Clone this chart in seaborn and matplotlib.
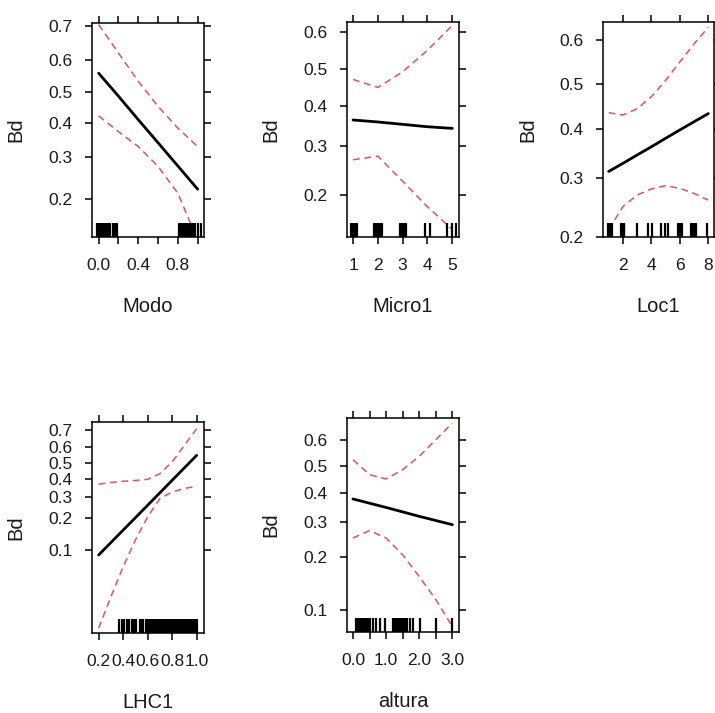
import matplotlib
matplotlib.use('Agg')
import matplotlib.pyplot as plt
import seaborn as sns
import pandas as pd

sns.set_style('ticks')
plt.rcParams['font.family'] = ['Liberation Sans', 'DejaVu Sans']

# ---- Modo ----
modo_x = [0.0, 0.2, 0.4, 0.6, 0.8, 1.0]
modo_fit = [0.560, 0.486, 0.411, 0.341, 0.277, 0.221]
modo_hi = [0.705, 0.623, 0.534, 0.453, 0.385, 0.330]
modo_lo = [0.423, 0.374, 0.330, 0.276, 0.212, 0.128]
modo_rug = [-0.02, 0.0, 0.02, 0.04, 0.06, 0.08, 0.10, 0.11, 0.15, 0.17, 0.19,
            0.81, 0.83, 0.85, 0.87, 0.89, 0.91, 0.93, 0.95, 0.97, 1.0, 1.03]

# ---- Micro1 ----
micro_x = [1, 2, 3, 4, 5]
micro_fit = [0.363, 0.358, 0.352, 0.346, 0.342]
micro_hi = [0.471, 0.449, 0.492, 0.551, 0.617]
micro_lo = [0.269, 0.277, 0.225, 0.180, 0.146]
micro_rug = [0.9, 0.95, 1.0, 1.05, 1.1, 1.15, 1.85, 1.9, 1.95, 2.0, 2.05, 2.1, 2.15,
             2.9, 2.95, 3.0, 3.05, 3.1, 3.15, 3.9, 4.1, 4.79, 4.98, 5.15]

# ---- Loc1 ----
loc_x = [1, 2, 3, 4, 5, 6, 7, 8]
loc_fit = [0.312, 0.328, 0.345, 0.362, 0.380, 0.398, 0.416, 0.434]
loc_hi = [0.436, 0.431, 0.445, 0.472, 0.509, 0.551, 0.591, 0.627]
loc_lo = [0.211, 0.248, 0.268, 0.279, 0.285, 0.280, 0.271, 0.259]
loc_rug = [0.95, 1.0, 1.05, 1.15, 1.2, 1.85, 1.95, 2.05, 2.1, 2.99, 3.79, 4.07,
           4.7, 4.99, 5.2, 5.85, 5.95, 6.05, 6.15, 6.8, 6.9, 7.0, 7.1, 7.93]

# ---- LHC1 ----
lhc_fit_x = [0.2, 0.4, 0.6, 0.8, 1.0]
lhc_fit = [0.089, 0.155, 0.256, 0.393, 0.549]
lhc_band_x = [0.2, 0.3, 0.4, 0.5, 0.6, 0.7, 0.8, 0.9, 1.0]
lhc_hi = [0.370, 0.380, 0.387, 0.392, 0.399, 0.434, 0.507, 0.611, 0.705]
lhc_lo = [0.0151, 0.0329, 0.0676, 0.125, 0.204, 0.290, 0.325, 0.345, 0.358]
lhc_rug = [0.368, 0.388, 0.409, 0.428, 0.449, 0.469, 0.490, 0.509, 0.537, 0.545,
           0.553, 0.562, 0.586, 0.605, 0.62, 0.63, 0.64, 0.65, 0.66, 0.67, 0.68,
           0.69, 0.70, 0.71, 0.72, 0.73, 0.74, 0.75, 0.76, 0.77, 0.78, 0.79, 0.80,
           0.81, 0.82, 0.83, 0.84, 0.85, 0.86, 0.87, 0.88, 0.89, 0.90, 0.91, 0.92,
           0.93, 0.94, 0.95, 0.96, 0.97, 0.98, 0.99, 1.0]

# ---- altura ----
alt_fit_x = [0.0, 1.0, 2.0, 3.0]
alt_fit = [0.378, 0.348, 0.318, 0.291]
alt_band_x = [0.0, 0.5, 1.0, 1.5, 2.0, 2.5, 3.0]
alt_hi = [0.525, 0.468, 0.452, 0.487, 0.538, 0.600, 0.659]
alt_lo = [0.251, 0.273, 0.251, 0.206, 0.157, 0.116, 0.080]
alt_rug = [0.10, 0.15, 0.20, 0.25, 0.30, 0.35, 0.40, 0.45, 0.51, 0.61, 0.71, 0.81,
           0.96, 1.21, 1.26, 1.31, 1.36, 1.41, 1.46, 1.51, 1.56, 1.62, 1.72, 1.82,
           2.02, 2.5, 3.0]

panels = [
    dict(name='Modo', fx=modo_x, fit=modo_fit, bx=modo_x, hi=modo_hi, lo=modo_lo, rug=modo_rug,
         box=(92, 23, 204, 237), xlim=(-0.067, 1.064), ylim=(0.1326, 0.709),
         xt=[0.0, 0.4, 0.8], xl=['0.0', '0.4', '0.8'], xm=[0.2, 0.6, 1.0],
         yt=[0.2, 0.3, 0.4, 0.5, 0.6, 0.7]),
    dict(name='Micro1', fx=micro_x, fit=micro_fit, bx=micro_x, hi=micro_hi, lo=micro_lo, rug=micro_rug,
         box=(347, 22, 459, 237), xlim=(0.758, 5.27), ylim=(0.136, 0.626),
         xt=[1, 2, 3, 4, 5], xl=['1', '2', '3', '4', '5'], xm=[],
         yt=[0.2, 0.3, 0.4, 0.5, 0.6]),
    dict(name='Loc1', fx=loc_x, fit=loc_fit, bx=loc_x, hi=loc_hi, lo=loc_lo, rug=loc_rug,
         box=(603, 22, 714, 237), xlim=(0.6, 8.4), ylim=(0.2, 0.638),
         xt=[2, 4, 6, 8], xl=['2', '4', '6', '8'], xm=[],
         yt=[0.2, 0.3, 0.4, 0.5, 0.6]),
    dict(name='LHC1', fx=lhc_fit_x, fit=lhc_fit, bx=lhc_band_x, hi=lhc_hi, lo=lhc_lo, rug=lhc_rug,
         box=(92, 422, 204, 633), xlim=(0.146, 1.06), ylim=(0.0134, 0.739),
         xt=[0.2, 0.4, 0.6, 0.8, 1.0], xl=['0.2', '0.4', '0.6', '0.8', '1.0'], xm=[],
         yt=[0.1, 0.2, 0.3, 0.4, 0.5, 0.6, 0.7]),
    dict(name='altura', fx=alt_fit_x, fit=alt_fit, bx=alt_band_x, hi=alt_hi, lo=alt_lo, rug=alt_rug,
         box=(347, 418, 459, 632), xlim=(-0.18, 3.2), ylim=(0.0741, 0.676),
         xt=[0.0, 1.0, 2.0, 3.0], xl=['0.0', '1.0', '2.0', '3.0'], xm=[0.5, 1.5, 2.5],
         yt=[0.1, 0.2, 0.3, 0.4, 0.5, 0.6]),
]

W, H = 715, 713
fig = plt.figure(figsize=(W / 100, H / 100), dpi=100)
red = '#e2535a'
txt = '#1a1a1a'

for p in panels:
    x0, y0, x1, y1 = p['box']
    ax = fig.add_axes([x0 / W, 1 - y1 / H, (x1 - x0) / W, (y1 - y0) / H])
    fit_df = pd.DataFrame({'x': p['fx'], 'fit': p['fit']})
    band_df = pd.DataFrame({'x': p['bx'], 'hi': p['hi'], 'lo': p['lo']})
    sns.lineplot(data=fit_df, x='x', y='fit', color='black', lw=2, ax=ax)
    sns.lineplot(data=band_df, x='x', y='hi', color=red, lw=1.1,
                 linestyle=(0, (4.5, 3)), ax=ax)
    sns.lineplot(data=band_df, x='x', y='lo', color=red, lw=1.1,
                 linestyle=(0, (4.5, 3)), ax=ax)
    sns.rugplot(x=p['rug'], height=0.065, color='black', linewidth=1.6, ax=ax)

    ax.set_yscale('logit')
    ax.set_xlim(*p['xlim'])
    ax.set_ylim(*p['ylim'])
    ax.set_yticks(p['yt'], [f'{v:.1f}' for v in p['yt']])
    ax.yaxis.set_minor_locator(matplotlib.ticker.NullLocator())
    ax.set_xticks(p['xt'], p['xl'])
    ax.set_xticks(p['xm'], minor=True)
    ax.tick_params(which='both', direction='out', length=5, width=1.1, color='black',
                   top=True, right=True, labeltop=False, labelright=False,
                   labelsize=12.5, labelcolor=txt)
    ax.tick_params(axis='x', pad=10)
    ax.tick_params(axis='y', pad=9)
    for s in ax.spines.values():
        s.set_visible(True)
        s.set_linewidth(1.1)
        s.set_color('black')
    ax.set_xlabel(p['name'], fontsize=14.5, color=txt)
    ax.set_ylabel('Bd', fontsize=14.5, color=txt)
    ax.xaxis.set_label_coords(0.5, -60 / (y1 - y0))
    ax.yaxis.label.set_verticalalignment('center')
    ax.yaxis.set_label_coords(-0.68, 0.5)

fig.savefig('out.png', dpi=100)
